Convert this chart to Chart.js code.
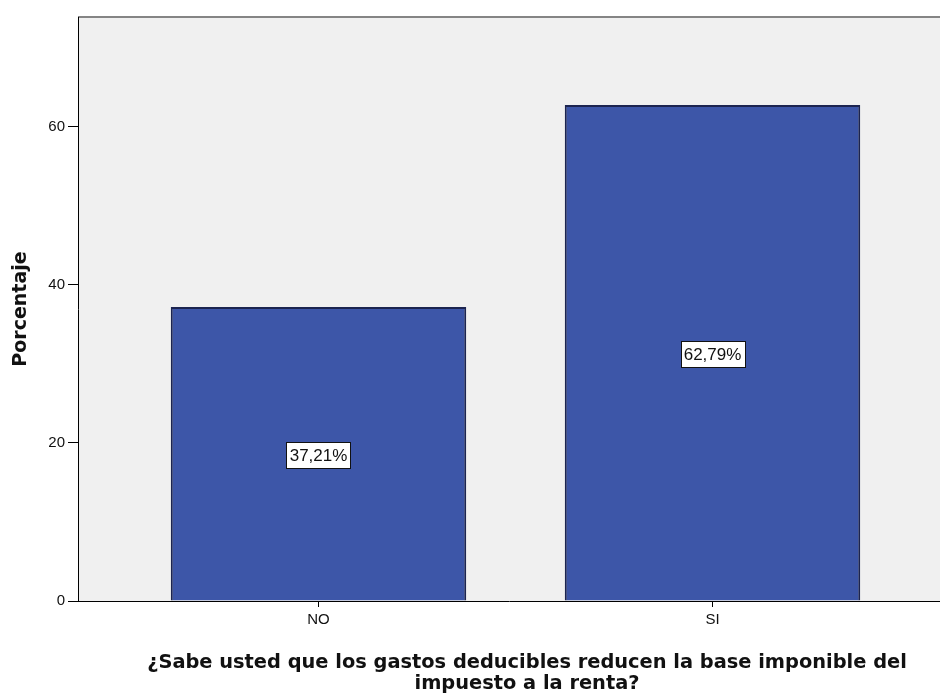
<!DOCTYPE html>
<html>
<head>
<meta charset="utf-8">
<script src="https://cdn.jsdelivr.net/npm/chart.js@4.4.1/dist/chart.umd.min.js"></script>
<style>
  html, body { margin: 0; padding: 0; background: #fff; }
  #wrap { width: 940px; height: 695px; }
</style>
</head>
<body>
<div id="wrap"><canvas id="chart"></canvas></div>
<script>
// respuestas y porcentajes
const categories = ['NO', 'SI'];
const percentages = [37.21, 62.79];
const yTicks = [0, 20, 40, 60];
const yTitle = 'Porcentaje';
const xTitle = ['¿Sabe usted que los gastos deducibles reducen la base imponible del', 'impuesto a la renta?'];

const fmtPct = v => v.toFixed(2).replace('.', ',') + '%';

// gray plot background + thin top frame line
const plotFrame = {
  id: 'plotFrame',
  beforeDraw(chart) {
    const { ctx, chartArea: a } = chart;
    ctx.save();
    ctx.fillStyle = '#f0f0f0';
    ctx.fillRect(a.left, a.top, a.right - a.left, a.bottom - a.top);
    ctx.strokeStyle = '#858585';
    ctx.lineWidth = 2;
    ctx.beginPath();
    ctx.moveTo(a.left, a.top);
    ctx.lineTo(a.right, a.top);
    ctx.stroke();
    ctx.restore();
  }
};

// x axis title, centred on the full plot width (plot runs past the right edge)
const xAxisTitle = {
  id: 'xAxisTitle',
  afterDraw(chart) {
    const { ctx } = chart;
    ctx.save();
    ctx.font = 'bold 19.4px "DejaVu Sans", Verdana, sans-serif';
    ctx.fillStyle = '#111';
    ctx.textAlign = 'center';
    ctx.textBaseline = 'middle';
    xTitle.forEach((line, i) => ctx.fillText(line, 527, 663 + i * 21));
    ctx.restore();
  }
};

// boxed value labels in the middle of each bar
const boxLabels = {
  id: 'boxLabels',
  afterDatasetsDraw(chart) {
    const { ctx } = chart;
    const meta = chart.getDatasetMeta(0);
    ctx.save();
    ctx.font = '17px "Liberation Sans", Arial, sans-serif';
    ctx.textAlign = 'center';
    ctx.textBaseline = 'middle';
    meta.data.forEach((bar, i) => {
      const text = fmtPct(percentages[i]);
      const w = Math.round(ctx.measureText(text).width + 6);
      const h = 26;
      const x0 = Math.round(bar.x - w / 2) + 0.5;
      const y0 = Math.round((bar.y + bar.base) / 2 + 1 - h / 2) + 0.5;
      ctx.fillStyle = '#fff';
      ctx.fillRect(x0, y0, w, h);
      ctx.strokeStyle = '#111';
      ctx.lineWidth = 1;
      ctx.strokeRect(x0, y0, w, h);
      ctx.fillStyle = '#111';
      ctx.fillText(text, bar.x, y0 + h / 2 + 1);
    });
    ctx.restore();
  }
};

const ctx = document.getElementById('chart').getContext('2d');
new Chart(ctx, {
  type: 'bar',
  data: {
    datasets: [{
      data: percentages.map((v, i) => ({ x: i, y: v })),
      backgroundColor: '#3d56a8',
      borderColor: '#1c2450',
      borderWidth: 2,
      barPercentage: 0.75,
      categoryPercentage: 1
    }]
  },
  options: {
    responsive: true,
    maintainAspectRatio: false,
    animation: false,
    layout: { padding: { top: 17, right: 0, left: 0, bottom: 0 } },
    plugins: {
      legend: { display: false },
      tooltip: { enabled: false }
    },
    scales: {
      x: {
        type: 'linear',
        offset: false,
        min: -0.6104,
        max: 1.5774,
        afterFit: s => { s.height = 94; },
        afterBuildTicks: s => { s.ticks = categories.map((_, i) => ({ value: i })); },
        grid: { offset: false, drawOnChartArea: false, color: '#000', tickLength: 6 },
        border: { display: true, color: '#000', width: 1 },
        ticks: {
          callback: v => categories[v] ?? '',
          color: '#111',
          padding: 4,
          maxRotation: 0,
          font: { family: '"Liberation Sans", Arial, sans-serif', size: 15 }
        }
      },
      y: {
        min: 0,
        max: 73.92,
        afterFit: s => { s.width = 78; },
        afterBuildTicks: s => { s.ticks = yTicks.map(v => ({ value: v })); },
        grid: { drawOnChartArea: false, color: '#000', tickLength: 10 },
        border: { display: true, color: '#000', width: 1 },
        ticks: {
          color: '#111',
          padding: 3,
          font: { family: '"Liberation Sans", Arial, sans-serif', size: 15 }
        },
        title: {
          display: true,
          text: yTitle,
          color: '#111',
          padding: { top: 10, bottom: 0 },
          font: { family: '"DejaVu Sans", Verdana, sans-serif', size: 19, weight: 'bold' }
        }
      }
    }
  },
  plugins: [plotFrame, boxLabels, xAxisTitle]
});
</script>
</body>
</html>
